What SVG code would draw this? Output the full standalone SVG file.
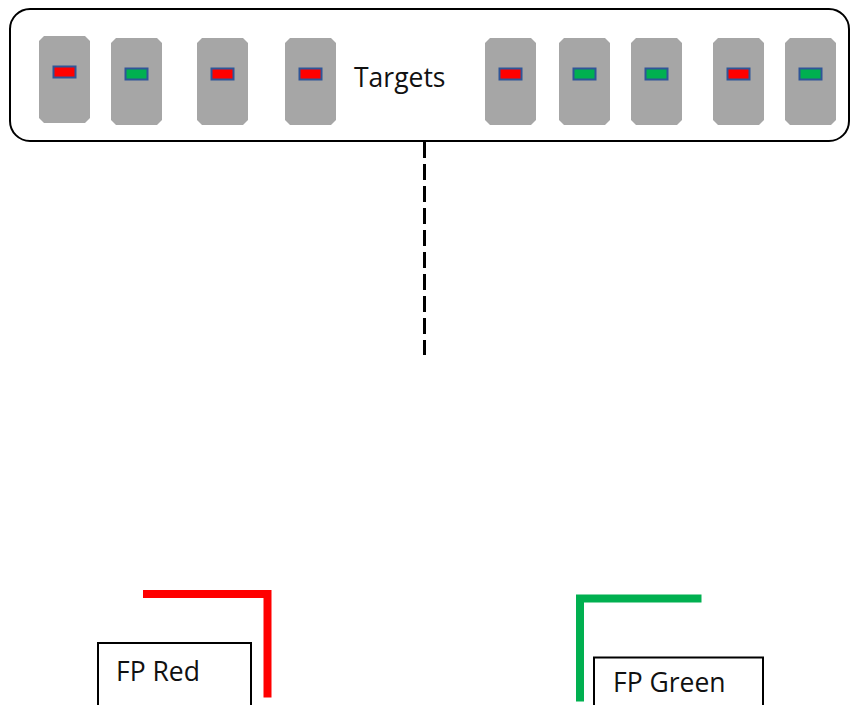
<svg xmlns="http://www.w3.org/2000/svg" xmlns:xlink="http://www.w3.org/1999/xlink" width="851" height="705" viewBox="0 0 851 705">
<style>
.lbl{font-family:"Open Sans","Liberation Sans",sans-serif;font-size:26.5px;fill:#111}
.body{fill:#A6A6A6}
.ind{stroke:#2F5597;stroke-width:2}
.red{fill:#FF0000}
.grn{fill:#00B050}
.box{fill:#fff;stroke:#000;stroke-width:2}
</style>
<defs>
<polygon id="tbody" points="-20.5,0 20.5,0 25.5,5 25.5,82 20.5,87 -20.5,87 -25.5,82 -25.5,5"/>
</defs>
<rect width="851" height="705" fill="#fff"/>
<g id="targets">
<rect x="10" y="9" width="839" height="132" rx="20" ry="20" fill="#fff" stroke="#000" stroke-width="2"/>
<text class="lbl" x="354" y="87">Targets</text>
</g>
<g id="t1" transform="translate(64.5,36)"><use xlink:href="#tbody" class="body"/><rect class="ind red" x="-11" y="30.5" width="22" height="11"/></g>
<g id="t2" transform="translate(136.5,38)"><use xlink:href="#tbody" class="body"/><rect class="ind grn" x="-11" y="30.5" width="22" height="11"/></g>
<g id="t3" transform="translate(222.5,38)"><use xlink:href="#tbody" class="body"/><rect class="ind red" x="-11" y="30.5" width="22" height="11"/></g>
<g id="t4" transform="translate(310.5,38)"><use xlink:href="#tbody" class="body"/><rect class="ind red" x="-11" y="30.5" width="22" height="11"/></g>
<g id="t5" transform="translate(510.5,38)"><use xlink:href="#tbody" class="body"/><rect class="ind red" x="-11" y="30.5" width="22" height="11"/></g>
<g id="t6" transform="translate(584.5,38)"><use xlink:href="#tbody" class="body"/><rect class="ind grn" x="-11" y="30.5" width="22" height="11"/></g>
<g id="t7" transform="translate(656.5,38)"><use xlink:href="#tbody" class="body"/><rect class="ind grn" x="-11" y="30.5" width="22" height="11"/></g>
<g id="t8" transform="translate(738.5,38)"><use xlink:href="#tbody" class="body"/><rect class="ind red" x="-11" y="30.5" width="22" height="11"/></g>
<g id="t9" transform="translate(810.5,38)"><use xlink:href="#tbody" class="body"/><rect class="ind grn" x="-11" y="30.5" width="22" height="11"/></g>
<g id="connectors">
<line x1="424.5" y1="142" x2="424.5" y2="355" stroke="#000" stroke-width="3" stroke-dasharray="16,6"/>
<polyline points="143,594 267.5,594 267.5,697.5" fill="none" stroke="#FF0000" stroke-width="8"/>
<polyline points="701.5,598.5 580,598.5 580,701.5" fill="none" stroke="#00B050" stroke-width="8"/>
</g>
<g id="fp-red">
<rect class="box" x="98" y="643" width="153" height="70"/>
<text class="lbl" x="116" y="681">FP Red</text>
</g>
<g id="fp-green">
<rect class="box" x="594" y="657.5" width="169" height="60"/>
<text class="lbl" x="613" y="692">FP Green</text>
</g>
</svg>
